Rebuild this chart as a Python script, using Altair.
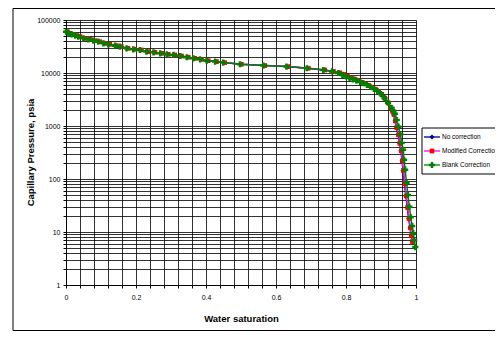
import altair as alt
import pandas as pd

# ---- data ----
sw_blank = [0.000, 0.007, 0.016, 0.026, 0.035, 0.050, 0.064, 0.078, 0.092, 0.107,
            0.121, 0.140, 0.154, 0.173, 0.192, 0.211, 0.230, 0.250, 0.269, 0.288,
            0.307, 0.326, 0.345, 0.364, 0.383, 0.402, 0.426, 0.449, 0.497, 0.564,
            0.630, 0.688, 0.735, 0.760, 0.778, 0.790, 0.800, 0.810, 0.820, 0.830,
            0.840, 0.850, 0.860, 0.870, 0.880, 0.890, 0.900, 0.910, 0.920, 0.930,
            0.935, 0.940, 0.945, 0.950, 0.955, 0.959, 0.963, 0.966, 0.969, 0.973,
            0.977, 0.981, 0.985, 0.989, 0.992, 0.995, 0.998]
p_blank = [60300, 56000, 53700, 50600, 48500, 45100, 43200, 40700, 39000, 36300,
           34800, 32800, 31400, 29200, 28000, 27200, 25300, 24500, 23500, 22500,
           21900, 20900, 19800, 18900, 18100, 17100, 16400, 15700, 14600, 13800,
           13200, 12300, 11400, 10700, 10000, 9200, 8600, 8000, 7600, 7200,
           6800, 6400, 5950, 5500, 5000, 4550, 4000, 3350, 2750, 2200,
           1950, 1700, 1300, 970, 700, 480, 355, 230, 150, 85,
           50, 30, 19, 13, 9.5, 7, 5.2]

sw_mod = [0.004, 0.011, 0.020, 0.030, 0.040, 0.054, 0.068, 0.082, 0.096, 0.111,
          0.125, 0.144, 0.158, 0.177, 0.196, 0.215, 0.234, 0.254, 0.273, 0.292,
          0.311, 0.330, 0.349, 0.368, 0.387, 0.406, 0.430, 0.453, 0.501, 0.568,
          0.634, 0.692, 0.739, 0.764, 0.782, 0.794, 0.804, 0.814, 0.824, 0.834,
          0.844, 0.854, 0.864, 0.874, 0.884, 0.893, 0.902, 0.911, 0.920, 0.928,
          0.933, 0.937, 0.941, 0.945, 0.950, 0.954, 0.958, 0.961, 0.964, 0.968,
          0.972, 0.976, 0.980, 0.984, 0.987, 0.990]
p_mod = [60300, 56000, 53700, 50600, 48500, 45100, 43200, 40700, 39000, 36300,
         34800, 32800, 31400, 29200, 28000, 27200, 25300, 24500, 23500, 22500,
         21900, 20900, 19800, 18900, 18100, 17100, 16400, 15700, 14600, 13800,
         13200, 12300, 11400, 10700, 10100, 9400, 8800, 8200, 7700, 7200,
         6700, 6300, 5850, 5400, 4950, 4450, 3950, 3350, 2750, 2200,
         1900, 1650, 1250, 930, 680, 470, 340, 220, 145, 82,
         48, 29, 18, 12, 8.5, 6.6]

sw_none = [0.003, 0.010, 0.019, 0.029, 0.039, 0.053, 0.067, 0.081, 0.095, 0.110,
           0.124, 0.143, 0.157, 0.176, 0.195, 0.214, 0.233, 0.253, 0.272, 0.291,
           0.310, 0.329, 0.348, 0.367, 0.386, 0.405, 0.429, 0.452, 0.500, 0.567,
           0.633, 0.691, 0.738, 0.763, 0.781, 0.793, 0.803, 0.813, 0.823, 0.833,
           0.843, 0.853, 0.863, 0.873, 0.883, 0.892, 0.901, 0.910, 0.919, 0.927,
           0.932, 0.936, 0.940, 0.944, 0.949, 0.953, 0.957, 0.960, 0.963, 0.967,
           0.971, 0.975, 0.979, 0.983, 0.986, 0.989]
p_none = [60300, 56000, 53700, 50600, 48500, 45100, 43200, 40700, 39000, 36300,
          34800, 32800, 31400, 29200, 28000, 27200, 25300, 24500, 23500, 22500,
          21900, 20900, 19800, 18900, 18100, 17100, 16400, 15700, 14600, 13800,
          13200, 12300, 11400, 10700, 10100, 9400, 8800, 8200, 7700, 7200,
          6700, 6300, 5850, 5400, 4950, 4450, 3950, 3350, 2750, 2200,
          1900, 1650, 1250, 930, 680, 470, 340, 220, 145, 82,
          48, 29, 18, 12, 8.5, 6.6]

series_names = ["No correction", "Modified Correction", "Blank Correction"]
line_colors = ["#000080", "#FF00FF", "#008000"]
marker_colors = ["#000080", "#FF0000", "#008000"]
marker_shapes = ["diamond", "square", "cross"]
marker_sizes = [24, 22, 38]

x_ticks = [round(i * 0.04, 2) for i in range(26)]
y_ticks = [m * 10 ** e for e in range(5) for m in range(1, 10)] + [100000]

frames = []
for name, sw, p in zip(series_names, [sw_none, sw_mod, sw_blank], [p_none, p_mod, p_blank]):
    frames.append(pd.DataFrame({"Sw": sw, "P": p, "series": name}))
df = pd.concat(frames, ignore_index=True)

FONT = "Liberation Sans"
W, H = 350, 265

x_axis = alt.Axis(values=x_ticks, title="Water saturation",
                  labelExpr="abs(datum.value*5 - round(datum.value*5)) < 0.001 ? format(datum.value, '~g') : ''",
                  labelFont=FONT, labelFontSize=7, labelColor="#000",
                  labelPadding=5, labelOverlap=False, labelFlush=False, labelBound=False,
                  tickSize=3, tickColor="#000", domainColor="#000",
                  grid=True, gridColor="#000", gridOpacity=0.8, gridWidth=1,
                  titleFont=FONT, titleFontSize=9.5, titleFontWeight="bold",
                  titleX=175, titleY=33, titleBaseline="middle", titleColor="#000")
y_axis = alt.Axis(values=y_ticks, title="Capillary Pressure, psia",
                  labelExpr="abs(log(datum.value)/LN10 - round(log(datum.value)/LN10)) < 0.000001 ? format(datum.value, 'd') : ''",
                  labelFont=FONT, labelFontSize=7, labelColor="#000",
                  labelPadding=3, labelOverlap=False, labelFlush=False, labelBound=False,
                  tickSize=3, tickColor="#000", domainColor="#000",
                  grid=True, gridColor="#000", gridOpacity=0.8, gridWidth=1,
                  titleFont=FONT, titleFontSize=9.5, titleFontWeight="bold",
                  titleX=-36, titleY=132, titleAngle=270, titleAlign="center",
                  titleBaseline="middle", titleColor="#000")

x_enc = alt.X("Sw:Q", scale=alt.Scale(domain=[0, 1], nice=False, zero=False), axis=x_axis)
y_enc = alt.Y("P:Q", scale=alt.Scale(type="log", domain=[1, 100000], nice=False), axis=y_axis)

layers = []
for i, name in enumerate(series_names):
    sub = alt.Chart(df).transform_filter(alt.datum.series == name)
    layers.append(sub.mark_line(color=line_colors[i], strokeWidth=1.5).encode(x=x_enc, y=y_enc))
    layers.append(sub.mark_point(shape=marker_shapes[i], filled=True, color=marker_colors[i],
                                 size=marker_sizes[i], opacity=1).encode(x=x_enc, y=y_enc))

one = pd.DataFrame({"k": [0]})
frame = alt.Chart(one).mark_rect(fill="white", fillOpacity=0, stroke="#000", strokeWidth=1).encode(
    x=alt.value(-53), x2=alt.value(470), y=alt.value(-11.5), y2=alt.value(310.5))

leg_box = alt.Chart(one).mark_rect(fill="white", stroke="#000", strokeWidth=1).encode(
    x=alt.value(356), x2=alt.value(470), y=alt.value(108), y2=alt.value(154))
leg_layers = [leg_box]
leg_y = [117, 131, 145]
for i, name in enumerate(series_names):
    leg_layers.append(alt.Chart(one).mark_rule(color=line_colors[i], strokeWidth=1.3).encode(
        x=alt.value(358), x2=alt.value(374), y=alt.value(leg_y[i])))
    leg_layers.append(alt.Chart(one).mark_point(shape=marker_shapes[i], filled=True, opacity=1,
                                               color=marker_colors[i], size=marker_sizes[i]).encode(
        x=alt.value(366), y=alt.value(leg_y[i])))
    leg_layers.append(alt.Chart(one).mark_text(text=name, font=FONT, fontSize=6.5, align="left",
                                              baseline="middle", color="#000").encode(
        x=alt.value(376), y=alt.value(leg_y[i])))

chart = alt.layer(frame, *layers, *leg_layers).properties(
    width=W, height=H,
    autosize=alt.AutoSizeParams(type="none"),
    padding={"left": 58, "top": 12, "right": 79, "bottom": 46},
).configure_view(stroke="#808080", strokeWidth=1).configure(background="white")

chart.save("out.html", embed_options={"renderer": "svg", "actions": False})
